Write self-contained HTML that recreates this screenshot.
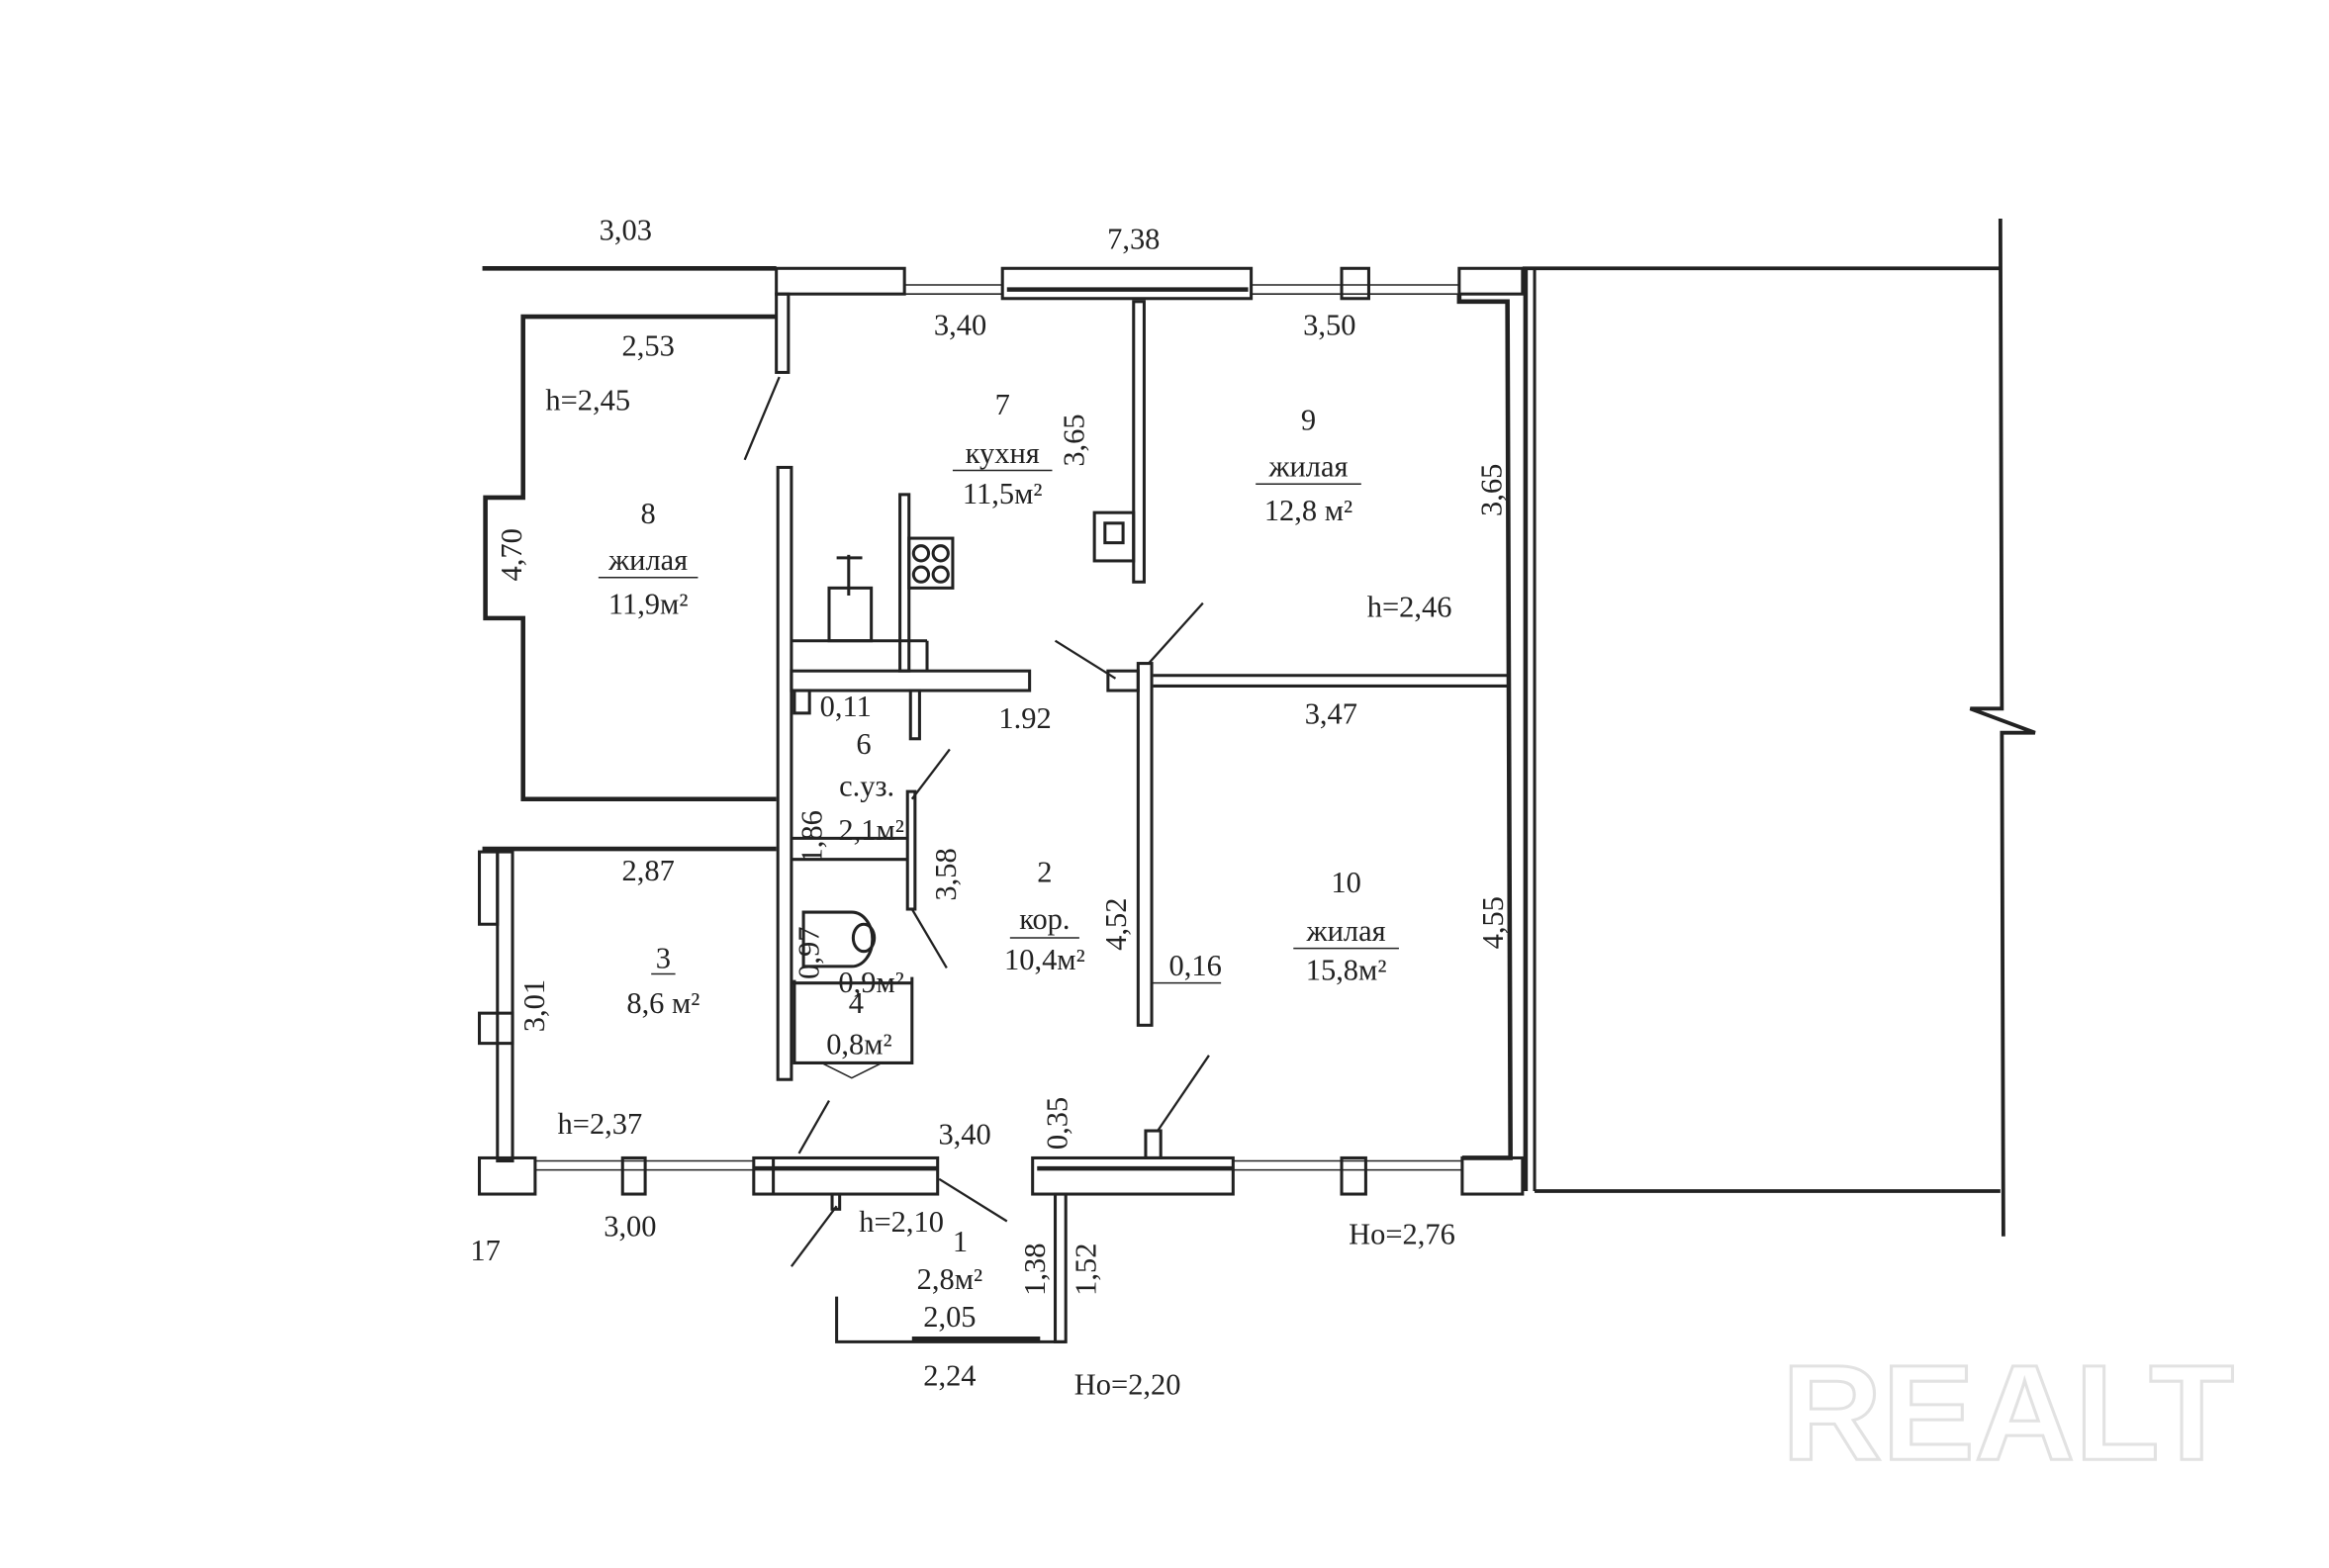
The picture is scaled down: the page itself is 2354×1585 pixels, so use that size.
<!DOCTYPE html>
<html><head><meta charset="utf-8"><style>
html,body{margin:0;padding:0;background:#fff;}
svg{display:block;}
text{font-family:"Liberation Serif",serif;fill:#222;font-size:20px;}
</style></head><body>
<svg width="2354" height="1585" viewBox="0 0 1545 1040" preserveAspectRatio="none" xmlns="http://www.w3.org/2000/svg">
<g fill="none" stroke="#222" stroke-width="2">
<!-- top exterior -->
<line x1="320" y1="178" x2="515" y2="178" stroke-width="3"/>
<rect x="515" y="178" width="85" height="17"/>
<line x1="600" y1="189" x2="665" y2="189" stroke-width="1"/><line x1="600" y1="195" x2="665" y2="195" stroke-width="1"/>
<rect x="665" y="178" width="165" height="20"/><line x1="668" y1="192" x2="828" y2="192" stroke-width="3"/>
<line x1="830" y1="189" x2="968" y2="189" stroke-width="1"/><line x1="830" y1="195" x2="968" y2="195" stroke-width="1"/>
<rect x="890" y="178" width="18" height="20"/>
<rect x="968" y="178" width="42" height="17"/>
<line x1="1010" y1="178" x2="1327" y2="178" stroke-width="2.5"/>
<!-- right outer -->
<line x1="1012" y1="178" x2="1012" y2="790" stroke-width="3"/>
<line x1="1018" y1="178" x2="1018" y2="790" stroke-width="2"/>
<line x1="1018" y1="790" x2="1327" y2="790" stroke-width="2.5"/>
<polyline points="1327,145 1328,470 1307,470 1350,486 1328,486 1329,820" stroke-width="2.5"/>
<!-- room 9/10 right wall -->
<polyline points="968,195 968,200 1000,200 1002,768 970,768" stroke-width="3"/>
<line x1="765" y1="448" x2="1000" y2="448"/><line x1="765" y1="455" x2="1000" y2="455"/>
<!-- room 8 -->
<polyline points="515,210 347,210 347,330 322,330 322,410 347,410 347,530 515,530" stroke-width="3"/>
<line x1="320" y1="563" x2="515" y2="563" stroke-width="3"/>
<rect x="515" y="195" width="8" height="52"/>
<line x1="517" y1="250" x2="494" y2="305" stroke-width="1.5"/>
<!-- central wall -->
<rect x="516" y="310" width="9" height="406"/>
<!-- kitchen wall -->
<rect x="752" y="200" width="7" height="186"/>
<rect x="726" y="340" width="26" height="32"/><rect x="733" y="347" width="12" height="13"/>
<!-- kitchen counter -->
<rect x="597" y="328" width="6" height="117"/>
<rect x="603" y="357" width="29" height="33"/>
<circle cx="611" cy="367" r="5"/><circle cx="624" cy="367" r="5"/><circle cx="611" cy="381" r="5"/><circle cx="624" cy="381" r="5"/>
<rect x="550" y="390" width="28" height="35"/>
<line x1="563" y1="368" x2="563" y2="395"/><line x1="555" y1="370" x2="572" y2="370"/>
<line x1="525" y1="425" x2="615" y2="425"/><line x1="615" y1="425" x2="615" y2="445"/>
<rect x="525" y="445" width="158" height="13"/>
<rect x="604" y="458" width="6" height="32"/>
<rect x="527" y="458" width="10" height="15"/>
<!-- corridor wall -->
<rect x="755" y="440" width="9" height="240"/>
<rect x="735" y="445" width="20" height="13"/>
<line x1="700" y1="425" x2="740" y2="450" stroke-width="1.5"/>
<line x1="762" y1="440" x2="798" y2="400" stroke-width="1.5"/>
<!-- bathroom -->
<rect x="602" y="525" width="5" height="78"/>
<line x1="525" y1="556" x2="602" y2="556"/><line x1="525" y1="570" x2="602" y2="570"/>
<line x1="605" y1="530" x2="630" y2="497" stroke-width="1.5"/>
<line x1="605" y1="603" x2="628" y2="642" stroke-width="1.5"/>
<path d="M533,605 h32 a13,17 0 0 1 0,36 h-32 z"/>
<ellipse cx="573" cy="622" rx="7" ry="9"/>
<line x1="525" y1="652" x2="605" y2="652"/>
<polyline points="527,650 527,705 605,705 605,648"/>
<polyline points="545,705 565,715 585,705" stroke-width="1"/>
<!-- room 3 -->
<rect x="330" y="565" width="10" height="205"/>
<rect x="318" y="565" width="12" height="48"/>
<rect x="318" y="672" width="22" height="20"/>
<!-- bottom exterior -->
<rect x="318" y="768" width="37" height="24"/>
<line x1="355" y1="770" x2="500" y2="770" stroke-width="1"/><line x1="355" y1="776" x2="500" y2="776" stroke-width="1"/>
<rect x="413" y="768" width="15" height="24"/>
<rect x="500" y="768" width="122" height="24"/><line x1="500" y1="775" x2="622" y2="775" stroke-width="3"/><line x1="513" y1="768" x2="513" y2="792"/>
<rect x="685" y="768" width="133" height="24"/><line x1="688" y1="775" x2="818" y2="775" stroke-width="3"/>
<line x1="818" y1="770" x2="970" y2="770" stroke-width="1"/><line x1="818" y1="776" x2="970" y2="776" stroke-width="1"/>
<rect x="890" y="768" width="16" height="24"/>
<rect x="970" y="768" width="40" height="24"/>
<line x1="550" y1="730" x2="530" y2="765" stroke-width="1.5"/>
<line x1="623" y1="782" x2="668" y2="810" stroke-width="1.5"/>
<rect x="552" y="792" width="5" height="10"/><line x1="555" y1="800" x2="525" y2="840" stroke-width="1.5"/>
<rect x="760" y="750" width="10" height="18"/><line x1="768" y1="750" x2="802" y2="700" stroke-width="1.5"/>
<!-- porch -->
<rect x="700" y="792" width="7" height="98"/>
<polyline points="555,860 555,890 707,890"/>
<line x1="605" y1="888" x2="690" y2="888" stroke-width="3"/>
</g>
<g>
<text x="415" y="159" text-anchor="middle">3,03</text>
<text x="752" y="165" text-anchor="middle">7,38</text>
<text x="637" y="222" text-anchor="middle">3,40</text>
<text x="882" y="222" text-anchor="middle">3,50</text>
<text x="430" y="236" text-anchor="middle">2,53</text>
<text x="390" y="272" text-anchor="middle">h=2,45</text>
<text x="665" y="275" text-anchor="middle">7</text>
<text x="665" y="307" text-anchor="middle">кухня</text><line x1="632" y1="312" x2="698" y2="312" stroke="#222"/>
<text x="665" y="334" text-anchor="middle">11,5м²</text>
<text transform="translate(719,292) rotate(-90)" text-anchor="middle">3,65</text>
<text x="868" y="285" text-anchor="middle">9</text>
<text x="868" y="316" text-anchor="middle">жилая</text><line x1="833" y1="321" x2="903" y2="321" stroke="#222"/>
<text x="868" y="345" text-anchor="middle">12,8 м²</text>
<text transform="translate(996,325) rotate(-90)" text-anchor="middle">3,65</text>
<text x="430" y="347" text-anchor="middle">8</text>
<text transform="translate(346,368) rotate(-90)" text-anchor="middle">4,70</text>
<text x="430" y="378" text-anchor="middle">жилая</text><line x1="397" y1="383" x2="463" y2="383" stroke="#222"/>
<text x="430" y="407" text-anchor="middle">11,9м²</text>
<text x="935" y="409" text-anchor="middle">h=2,46</text>
<text x="680" y="483" text-anchor="middle">1.92</text>
<text x="883" y="480" text-anchor="middle">3,47</text>
<text x="561" y="475" text-anchor="middle">0,11</text>
<text x="573" y="500" text-anchor="middle">6</text>
<text x="575" y="528" text-anchor="middle">с.уз.</text>
<text x="578" y="557" text-anchor="middle">2,1м²</text>
<text transform="translate(545,555) rotate(-90)" text-anchor="middle" font-size="17">1,86</text>
<text transform="translate(634,580) rotate(-90)" text-anchor="middle">3,58</text>
<text x="430" y="584" text-anchor="middle">2,87</text>
<text x="693" y="585" text-anchor="middle">2</text>
<text x="693" y="616" text-anchor="middle">кор.</text><line x1="670" y1="622" x2="716" y2="622" stroke="#222"/>
<text x="693" y="643" text-anchor="middle">10,4м²</text>
<text transform="translate(747,613) rotate(-90)" text-anchor="middle">4,52</text>
<text x="893" y="592" text-anchor="middle">10</text>
<text x="893" y="624" text-anchor="middle">жилая</text><line x1="858" y1="629" x2="928" y2="629" stroke="#222"/>
<text x="893" y="650" text-anchor="middle">15,8м²</text>
<text transform="translate(997,612) rotate(-90)" text-anchor="middle">4,55</text>
<text x="440" y="642" text-anchor="middle">3</text><line x1="432" y1="646" x2="448" y2="646" stroke="#222"/>
<text x="440" y="672" text-anchor="middle">8,6 м²</text>
<text transform="translate(361,667) rotate(-90)" text-anchor="middle">3,01</text>
<text transform="translate(543,632) rotate(-90)" text-anchor="middle" font-size="17">0,97</text>
<text x="578" y="658" text-anchor="middle">0,9м²</text>
<text x="568" y="672" text-anchor="middle" font-size="16">4</text>
<text x="570" y="699" text-anchor="middle">0,8м²</text>
<text x="793" y="647" text-anchor="middle">0,16</text><line x1="764" y1="652" x2="810" y2="652" stroke="#222"/>
<text x="398" y="752" text-anchor="middle">h=2,37</text>
<text x="640" y="759" text-anchor="middle">3,40</text>
<text transform="translate(708,745) rotate(-90)" text-anchor="middle" font-size="18">0,35</text>
<text x="598" y="817" text-anchor="middle">h=2,10</text>
<text x="637" y="830" text-anchor="middle">1</text>
<text x="630" y="855" text-anchor="middle">2,8м²</text>
<text x="630" y="880" text-anchor="middle">2,05</text>
<text transform="translate(693,842) rotate(-90)" text-anchor="middle">1,38</text>
<text transform="translate(727,842) rotate(-90)" text-anchor="middle">1,52</text>
<text x="418" y="820" text-anchor="middle">3,00</text>
<text x="322" y="836" text-anchor="middle">17</text>
<text x="930" y="825" text-anchor="middle">Hо=2,76</text>
<text x="630" y="919" text-anchor="middle">2,24</text>
<text x="748" y="925" text-anchor="middle">Hо=2,20</text>
<text x="1332" y="968" text-anchor="middle" style="font-family:'Liberation Sans',sans-serif;font-size:90px;font-weight:bold;fill:none;stroke:#e2e2e2;stroke-width:2" textLength="300" lengthAdjust="spacingAndGlyphs">REALT</text>
</g>
</svg>
</body></html>
